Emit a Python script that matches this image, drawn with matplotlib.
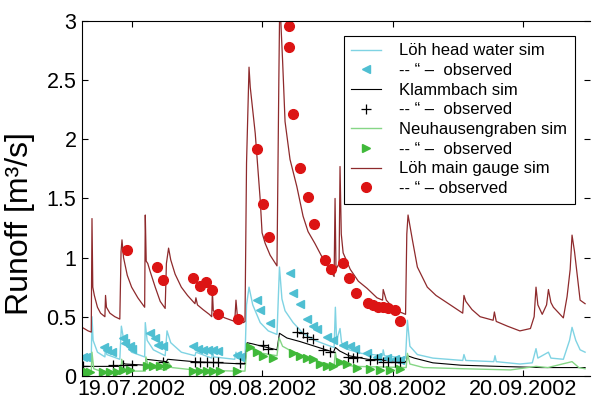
import matplotlib
matplotlib.use('Agg')
import matplotlib.pyplot as plt

plt.rcParams['font.family'] = ['Liberation Sans', 'DejaVu Sans']

# time axis: days after 30.06.2002
tick_days = [19, 40, 61, 82]
tick_labels = ['19.07.2002', '09.08.2002', '30.08.2002', '20.09.2002']

# Löh main gauge, simulated
main_sim_t = [11.03, 12.0, 12.5, 12.62, 12.75, 13.0, 13.5, 14.0, 14.7, 14.8, 14.95, 15.5, 16.3,
              17.1, 17.3, 17.45, 17.7, 18.3, 19.0, 20.0, 21.1, 21.2, 21.35, 21.6, 22.0, 22.8,
              23.6, 24.4, 24.6, 24.95, 25.3, 26.0, 27.0, 28.0, 29.2, 29.35, 29.6, 30.5, 31.5,
              31.9, 32.0, 32.15, 33.0, 34.0, 35.6, 35.8, 36.0, 37.0, 37.25, 37.5, 37.9, 38.1,
              38.9, 39.7, 40.0, 40.5, 41.3, 42.4, 42.7, 42.85, 43.1, 43.3, 43.7, 44.5, 45.6,
              46.6, 47.4, 48.5, 49.5, 50.5, 51.6, 51.75, 51.9, 52.4, 52.55, 52.75, 53.05, 54.2,
              55.5, 56.9, 58.5, 59.4, 59.5, 60.0, 61.0, 62.2, 63.1, 63.3, 63.5, 63.7, 64.2,
              65.0, 66.6, 68.0, 70.3, 72.3, 72.5, 72.8, 73.8, 75.1, 77.2, 77.4, 77.7, 79.5,
              81.5, 83.2, 83.8, 84.1, 84.4, 85.1, 85.8, 86.1, 86.5, 86.9, 88.5, 89.1, 89.6,
              89.9, 90.3, 91.2, 92.0]
main_sim_q = [0.41, 0.38, 0.37, 1.33, 0.75, 0.68, 0.58, 0.53, 0.50, 0.68, 0.58, 0.53, 0.50,
              0.48, 1.05, 1.15, 1.00, 0.85, 0.75, 0.66, 0.58, 1.36, 0.97, 0.95, 0.88, 0.75,
              0.63, 0.57, 0.95, 1.08, 0.98, 0.86, 0.75, 0.68, 0.61, 0.66, 0.60, 0.56, 0.52,
              0.50, 0.72, 0.55, 0.52, 0.49, 0.46, 0.64, 0.52, 0.45, 0.46, 1.80, 2.61, 2.44,
              2.05, 1.49, 1.21, 1.12, 1.02, 0.93, 2.50, 3.20, 2.90, 2.67, 2.15, 1.83, 1.60,
              1.35, 1.22, 1.12, 1.02, 0.93, 0.84, 1.50, 0.90, 0.95, 1.77, 1.20, 1.04, 0.90,
              0.80, 0.74, 0.66, 0.64, 0.73, 0.64, 0.58, 0.54, 0.52, 1.20, 1.36, 1.30, 1.15,
              0.92, 0.75, 0.68, 0.60, 0.53, 0.68, 0.63, 0.56, 0.50, 0.47, 0.54, 0.46, 0.42,
              0.38, 0.40, 0.50, 0.75, 0.60, 0.52, 0.60, 0.73, 0.62, 0.58, 0.49, 0.67, 0.90,
              1.19, 1.05, 0.64, 0.61]

# Löh head water, simulated
head_sim_t = [11.03, 12.5, 12.62, 12.8, 13.5, 14.7, 14.8, 15.0, 17.1, 17.35, 17.8, 19.0, 21.1,
              21.2, 21.5, 22.5, 24.4, 24.7, 25.3, 27.0, 29.2, 29.35, 31.9, 32.0, 32.2, 35.6,
              35.8, 36.0, 37.25, 37.5, 37.9, 38.5, 39.7, 41.0, 42.4, 42.8, 43.2, 43.7, 45.0,
              46.6, 48.5, 50.5, 51.6, 51.8, 52.0, 52.55, 52.8, 54.0, 56.0, 59.4, 59.5, 59.7,
              63.1, 63.4, 63.8, 65.0, 67.5, 72.3, 72.5, 72.8, 77.3, 77.5, 77.7, 81.5, 83.5,
              84.1, 84.4, 86.1, 86.5, 88.5, 89.5, 89.9, 90.5, 91.2, 92.0]
head_sim_q = [0.15, 0.13, 0.50, 0.30, 0.20, 0.16, 0.25, 0.18, 0.14, 0.42, 0.28, 0.20, 0.16,
              0.45, 0.30, 0.22, 0.17, 0.38, 0.28, 0.20, 0.17, 0.20, 0.15, 0.22, 0.16, 0.14,
              0.20, 0.15, 0.15, 0.60, 0.75, 0.60, 0.45, 0.38, 0.35, 0.92, 0.65, 0.55, 0.45,
              0.36, 0.30, 0.26, 0.24, 0.58, 0.30, 0.40, 0.28, 0.22, 0.19, 0.17, 0.22, 0.17,
              0.15, 0.47, 0.25, 0.18, 0.15, 0.13, 0.18, 0.13, 0.12, 0.17, 0.12, 0.10, 0.11,
              0.23, 0.15, 0.20, 0.15, 0.14, 0.30, 0.41, 0.30, 0.22, 0.20]

# Klammbach, simulated
klamm_sim_t = [11.03, 17.3, 17.4, 18.0, 21.2, 21.3, 23.0, 24.6, 24.8, 29.0, 33.0, 37.25, 37.6,
               38.5, 40.0, 42.4, 42.8, 44.0, 46.1, 48.5, 51.5, 51.8, 52.5, 54.0, 57.0, 60.0,
               63.2, 63.4, 64.5, 67.5, 72.0, 78.0, 85.0, 92.0]
klamm_sim_q = [0.08, 0.08, 0.11, 0.10, 0.09, 0.14, 0.13, 0.12, 0.14, 0.12, 0.11, 0.10, 0.28,
               0.27, 0.25, 0.22, 0.36, 0.32, 0.29, 0.25, 0.20, 0.24, 0.21, 0.17, 0.14, 0.13,
               0.12, 0.17, 0.15, 0.11, 0.09, 0.08, 0.07, 0.07]

# Neuhausengraben, simulated
neu_sim_t = [11.03, 12.5, 12.62, 12.9, 14.0, 17.3, 17.4, 17.8, 19.0, 21.2, 21.3, 21.7, 23.0,
             24.6, 24.8, 25.5, 29.0, 35.8, 37.25, 37.5, 37.9, 39.0, 42.4, 42.75, 43.3, 46.1,
             49.0, 51.6, 51.8, 52.1, 55.0, 63.2, 63.4, 63.8, 66.0, 72.5, 80.0, 84.1, 86.0,
             89.9, 91.0, 92.0]
neu_sim_q = [0.03, 0.03, 0.20, 0.06, 0.04, 0.03, 0.14, 0.06, 0.04, 0.04, 0.16, 0.08, 0.06,
             0.05, 0.12, 0.07, 0.05, 0.04, 0.04, 0.20, 0.25, 0.20, 0.17, 0.32, 0.25, 0.17,
             0.12, 0.09, 0.20, 0.10, 0.08, 0.07, 0.19, 0.10, 0.07, 0.06, 0.05, 0.08, 0.07,
             0.12, 0.07, 0.06]

# observations
main_obs_t = [18.28, 23.11, 24.07, 28.9, 30.03, 31.0, 31.96, 32.93, 36.15, 39.21, 40.18, 41.14,
              44.36, 44.36, 45.01, 46.13, 47.42, 48.39, 50.16, 51.12, 53.05, 54.02, 55.14,
              57.08, 57.88, 58.7, 59.5, 60.3, 61.43, 62.23]
main_obs_q = [1.06, 0.92, 0.81, 0.83, 0.76, 0.79, 0.73, 0.52, 0.48, 1.92, 1.45, 1.17,
              2.96, 2.78, 2.21, 1.76, 1.51, 1.28, 0.98, 0.90, 0.95, 0.83, 0.70,
              0.62, 0.60, 0.58, 0.58, 0.57, 0.56, 0.46]

head_obs_t = [11.19, 11.67, 14.57, 15.05, 15.86, 17.63, 17.95, 18.76, 19.08, 21.98, 22.78, 23.27,
              24.07, 28.9, 29.71, 30.51, 31.32, 32.12, 32.93, 35.99, 36.47, 39.21, 39.69, 41.3,
              44.52, 45.01, 46.13, 47.26, 48.23, 48.87, 50.48, 51.45, 53.05, 54.18, 54.98,
              56.91, 58.52, 60.14, 61.43, 62.23]
head_obs_q = [0.16, 0.16, 0.24, 0.22, 0.20, 0.32, 0.28, 0.25, 0.23, 0.36, 0.32, 0.26,
              0.25, 0.25, 0.23, 0.22, 0.22, 0.22, 0.21, 0.18, 0.16, 0.64, 0.56, 0.45,
              0.87, 0.70, 0.61, 0.48, 0.42, 0.40, 0.33, 0.30, 0.26, 0.25, 0.23,
              0.19, 0.16, 0.15, 0.14, 0.13]

klamm_obs_t = [11.19, 16.02, 17.63, 19.08, 24.07, 29.23, 30.03, 31.16, 32.12, 32.93, 36.47, 40.18,
               40.98, 45.65, 46.62, 47.26, 48.23, 49.84, 50.96, 53.86, 54.66, 55.31, 57.4,
               58.52, 59.49, 60.3, 61.43, 62.23]
klamm_obs_q = [0.08, 0.09, 0.09, 0.09, 0.12, 0.12, 0.12, 0.12, 0.12, 0.12, 0.11, 0.26,
               0.23, 0.37, 0.36, 0.33, 0.31, 0.22, 0.20, 0.16, 0.15, 0.16, 0.13,
               0.14, 0.12, 0.12, 0.12, 0.12]

neu_obs_t = [11.19, 11.83, 12.3, 14.41, 15.54, 16.67, 17.63, 18.76, 21.5, 22.46, 23.59, 24.72,
             28.9, 30.03, 31.16, 32.12, 33.25, 35.99, 38.08, 39.21, 40.18, 41.79, 45.01, 46.13,
             47.26, 48.23, 49.35, 50.48, 51.45, 52.57, 53.7, 55.31, 57.4, 59.01, 60.62, 62.23]
neu_obs_q = [0.03, 0.03, 0.03, 0.03, 0.03, 0.03, 0.05, 0.05, 0.08, 0.08, 0.08, 0.08,
             0.04, 0.04, 0.04, 0.04, 0.04, 0.04, 0.24, 0.20, 0.17, 0.15, 0.19, 0.17,
             0.15, 0.14, 0.10, 0.08, 0.08, 0.12, 0.10, 0.07, 0.06, 0.05, 0.05, 0.06]

fig = plt.figure(figsize=(5.95, 4.05), dpi=100)
ax = fig.add_axes([0.138, 0.072, 0.854, 0.876])

h1, = ax.plot(head_sim_t, head_sim_q, color='#7fd3e3', lw=1.0)
h3, = ax.plot(klamm_sim_t, klamm_sim_q, color='black', lw=0.8)
h5, = ax.plot(neu_sim_t, neu_sim_q, color='#86d686', lw=1.0)
h7, = ax.plot(main_sim_t, main_sim_q, color='#8e2a2c', lw=0.9)

h2, = ax.plot(head_obs_t, head_obs_q, ls='none', marker='<', ms=6, color='#4fbfd2')
h4, = ax.plot(klamm_obs_t, klamm_obs_q, ls='none', marker='+', ms=7, mew=0.9, color='black')
h6, = ax.plot(neu_obs_t, neu_obs_q, ls='none', marker='>', ms=5.5, color='#40b93a')
h8, = ax.plot(main_obs_t, main_obs_q, ls='none', marker='o', ms=7, color='#dc1414', clip_on=False)

labels = ['Löh head water sim', '-- \u201c \u2013  observed', 'Klammbach sim',
          '-- \u201c \u2013  observed', 'Neuhausengraben sim', '-- \u201c \u2013  observed',
          'Löh main gauge sim', '-- \u201c \u2013 observed']
leg = ax.legend([h1, h2, h3, h4, h5, h6, h7, h8], labels, loc='upper right',
                bbox_to_anchor=(0.970, 0.958), borderaxespad=0, fontsize=12,
                labelspacing=0.28, handlelength=1.8, handletextpad=1.1,
                borderpad=0.45, fancybox=False, framealpha=1)
leg.get_frame().set_edgecolor('black')
leg.get_frame().set_linewidth(0.8)

ax.set_xlim(11.03, 92.83)
ax.set_ylim(0, 3)
ax.set_xticks(tick_days)
ax.set_xticklabels(tick_labels)
ax.set_yticks([0, 0.5, 1, 1.5, 2, 2.5, 3])
ax.set_yticklabels(['0', '0.5', '1', '1.5', '2', '2.5', '3'])
ax.tick_params(direction='in', top=True, right=True, labelsize=15.5, length=4, pad=2)
ax.tick_params(axis='y', pad=4)
ax.spines['right'].set_visible(False)
ax.set_ylabel('Runoff [m³/s]', fontsize=23)
ax.yaxis.set_label_coords(-0.092, 0.43)

fig.savefig('out.png', dpi=100)
